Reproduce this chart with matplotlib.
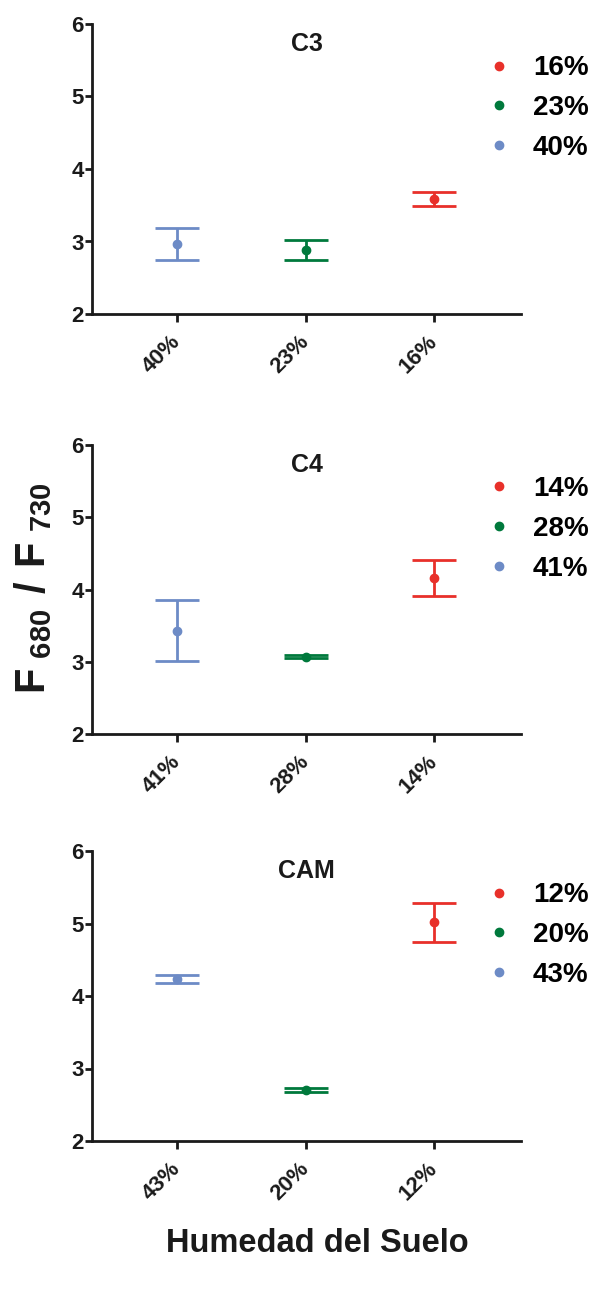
import matplotlib
matplotlib.use("Agg")
import matplotlib.pyplot as plt
from matplotlib.lines import Line2D

plt.rcParams['font.family'] = ['Liberation Sans', 'DejaVu Sans']
plt.rcParams['font.weight'] = 'bold'
plt.rcParams['mathtext.fontset'] = 'custom'
plt.rcParams['mathtext.rm'] = 'Liberation Sans:bold'
plt.rcParams['mathtext.bf'] = 'Liberation Sans:bold'

# humedad del suelo por grupo fotosintetico (de mayor a menor)
titles = ['C3', 'C4', 'CAM']
c3_labels = ['40%', '23%', '16%']
c3_mean = [2.96, 2.88, 3.59]
c3_err = [0.22, 0.14, 0.095]
c4_labels = ['41%', '28%', '14%']
c4_mean = [3.43, 3.07, 4.16]
c4_err = [0.42, 0.02, 0.245]
cam_labels = ['43%', '20%', '12%']
cam_mean = [4.235, 2.70, 5.015]
cam_err = [0.055, 0.03, 0.265]

colors = ['#6d8bc6', '#00793c', '#e8302a']

groups = [
    (c3_labels, c3_mean, c3_err),
    (c4_labels, c4_mean, c4_err),
    (cam_labels, cam_mean, cam_err),
]

W, H = 592, 1289
fig = plt.figure(figsize=(W / 100, H / 100), dpi=100)

# limites de cada panel en pixeles (arriba, abajo)
panel_px = [(24, 314), (445, 734), (851, 1141)]
left_px, right_px = 92, 521

for (top, bot), title, (labels, means, errs) in zip(panel_px, titles, groups):
    ax = fig.add_axes([left_px / W, 1 - bot / H, (right_px - left_px) / W, (bot - top) / H])
    xs = range(len(labels))
    for x, m, e, c in zip(xs, means, errs, colors):
        ax.errorbar(x, m, yerr=e, fmt='o', color=c, ms=6, elinewidth=2,
                    capsize=15.5, capthick=2)
    ax.set_xlim(-0.666, 2.676)
    ax.set_ylim(2, 6)
    ax.set_yticks([2, 3, 4, 5, 6])
    ax.set_xticks(list(xs))
    ax.set_xticklabels(labels, rotation=45, ha='right', va='center',
                       rotation_mode='anchor')
    for side in ['top', 'right']:
        ax.spines[side].set_visible(False)
    for side in ['left', 'bottom']:
        ax.spines[side].set_linewidth(2)
        ax.spines[side].set_color('#1a1a1a')
    ax.tick_params(axis='y', length=5, width=2, pad=1, labelsize=16, colors='#1a1a1a')
    ax.tick_params(axis='x', length=5.5, width=2, pad=12, labelsize=16, colors='#1a1a1a')
    ax.text(0.5, 0.907, title, transform=ax.transAxes, ha='center', va='baseline',
            fontsize=18, fontweight='bold', color='#1a1a1a')

    handles = [Line2D([], [], marker='o', ls='none', color=c, ms=6) for c in colors]
    ax.legend(handles[::-1], labels[::-1], loc='upper left', bbox_to_anchor=(0.929, 0.892),
              frameon=False, fontsize=20, labelspacing=0.5, handletextpad=0.92,
              handlelength=0.6, borderaxespad=0, borderpad=0)

fig.text(33 / W, 1 - 588 / H, r'$\mathrm{F}_{\ \mathrm{680}}\ /\ \mathrm{F}_{\ \mathrm{730}}$',
         rotation=90, ha='center', va='center', fontsize=30, color='#1a1a1a')
fig.text(317 / W, 1 - 1244 / H, 'Humedad del Suelo', ha='center', va='center',
         fontsize=23.5, fontweight='bold', color='#1a1a1a')

fig.savefig('out.png', dpi=100)
